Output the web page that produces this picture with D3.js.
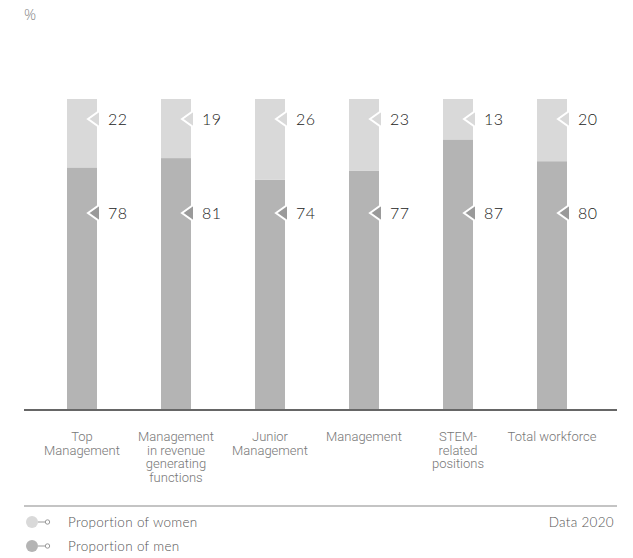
<!DOCTYPE html>
<html>
<head>
<meta charset="utf-8">
<script src="https://cdn.jsdelivr.net/npm/d3@7"></script>
<style>
    body { margin: 0; background: #fff; }
    svg { display: block; }
</style>
</head>
<body>
<div id="chart"></div>
<script>
(function () {
    "use strict";

    // chart data
    var categories = ["Top Management", "Management in revenue generating functions",
        "Junior Management", "Management", "STEM-related positions", "Total workforce"];
    var categoryLines = [
        ["Top", "Management"],
        ["Management", "in revenue", "generating", "functions"],
        ["Junior", "Management"],
        ["Management"],
        ["STEM-", "related", "positions"],
        ["Total workforce"]
    ];
    var women = [22, 19, 26, 23, 13, 20];
    var men = [78, 81, 74, 77, 87, 80];
    var seriesNames = ["Proportion of women", "Proportion of men"];

    var width = 633,
        height = 558,
        baseY = 410,
        topY = 99,
        barW = 30,
        womenCol = "#d9d9d9",
        menCol = "#b4b4b4",
        menMark = "#9a9a9a";

    var svg = d3.select("#chart").append("svg")
        .attr("width", width)
        .attr("height", height);

    var x = d3.scalePoint().domain(categories).range([82, 552]);
    var y = d3.scaleLinear().domain([0, 100]).range([baseY, topY]);

    // unit label
    svg.append("text")
        .attr("x", 24).attr("y", 20)
        .attr("font-family", "'Open Sans', sans-serif")
        .attr("font-weight", 300)
        .attr("font-size", 15)
        .attr("fill", "#888")
        .text("%");

    var rows = categories.map(function (c, i) {
        return {cat: c, w: women[i], m: men[i], lines: categoryLines[i]};
    });

    var g = svg.selectAll("g.bar").data(rows).enter().append("g").attr("class", "bar");

    // men (bottom)
    g.append("rect")
        .attr("x", function (d) { return x(d.cat) - barW / 2; })
        .attr("y", function (d) { return y(d.m); })
        .attr("width", barW)
        .attr("height", function (d) { return baseY - y(d.m); })
        .attr("fill", menCol);

    // women (top)
    g.append("rect")
        .attr("x", function (d) { return x(d.cat) - barW / 2; })
        .attr("y", function (d) { return y(d.m + d.w); })
        .attr("width", barW)
        .attr("height", function (d) { return y(d.m) - y(d.m + d.w); })
        .attr("fill", womenCol);

    // pointer markers + values (labels sit at fixed heights)
    function marker(sel, yPos, fill, key) {
        sel.append("path")
            .attr("d", function (d) {
                var r = x(d.cat) + barW / 2;
                return "M" + (r - 9) + "," + yPos + "L" + (r + 3) + "," + (yPos - 8.5) +
                    "L" + (r + 3) + "," + (yPos + 8.5) + "Z";
            })
            .attr("fill", fill)
            .attr("stroke", "#fff")
            .attr("stroke-width", 2)
            .attr("stroke-linejoin", "miter");
        sel.append("text")
            .attr("x", function (d) { return x(d.cat) + barW / 2 + 11; })
            .attr("y", yPos + 5.5)
            .attr("font-family", "Lato, sans-serif")
            .attr("font-weight", 300)
            .attr("font-size", 16)
            .attr("fill", "#222")
            .attr("letter-spacing", 0.5)
            .text(function (d) { return d[key]; });
    }
    marker(g, 119, womenCol, "w");
    marker(g, 213, menMark, "m");

    // baseline
    svg.append("line")
        .attr("x1", 24).attr("x2", 617)
        .attr("y1", baseY).attr("y2", baseY)
        .attr("stroke", "#666")
        .attr("stroke-width", 2);

    // category labels
    var lbl = g.append("text")
        .attr("text-anchor", "middle")
        .attr("font-family", "Roboto, sans-serif")
        .attr("font-weight", 300)
        .attr("font-size", 13)
        .attr("fill", "#777");
    lbl.selectAll("tspan").data(function (d) {
        return d.lines.map(function (l) { return {t: l, cat: d.cat}; });
    }).enter().append("tspan")
        .attr("x", function (d) { return x(d.cat); })
        .attr("y", function (d, i) { return 441 + i * 13.5; })
        .text(function (d) { return d.t; });

    // legend
    svg.append("line")
        .attr("x1", 24).attr("x2", 617)
        .attr("y1", 506).attr("y2", 506)
        .attr("stroke", "#b0b0b0")
        .attr("stroke-width", 1.5);

    var lg = svg.selectAll("g.legend").data(seriesNames).enter().append("g")
        .attr("class", "legend")
        .attr("transform", function (d, i) { return "translate(0," + (522 + i * 24) + ")"; });
    lg.append("circle").attr("cx", 32).attr("cy", 0).attr("r", 6)
        .attr("fill", function (d, i) { return i === 0 ? womenCol : menCol; });
    lg.append("line").attr("x1", 38).attr("x2", 45).attr("y1", 0).attr("y2", 0)
        .attr("stroke", "#999").attr("stroke-width", 1);
    lg.append("circle").attr("cx", 47.5).attr("cy", 0).attr("r", 2.2)
        .attr("fill", "#fff").attr("stroke", "#999").attr("stroke-width", 1);
    lg.append("text").attr("x", 68).attr("y", 4.5)
        .attr("font-family", "Lato, sans-serif")
        .attr("font-weight", 300)
        .attr("font-size", 13.5)
        .attr("fill", "#555")
        .attr("letter-spacing", 0.3)
        .text(function (d) { return d; });

    svg.append("text")
        .attr("x", 614).attr("y", 526.5)
        .attr("text-anchor", "end")
        .attr("font-family", "Lato, sans-serif")
        .attr("font-weight", 300)
        .attr("font-size", 13.5)
        .attr("fill", "#555")
        .attr("letter-spacing", 0.3)
        .text("Data 2020");
}());
</script>
</body>
</html>
